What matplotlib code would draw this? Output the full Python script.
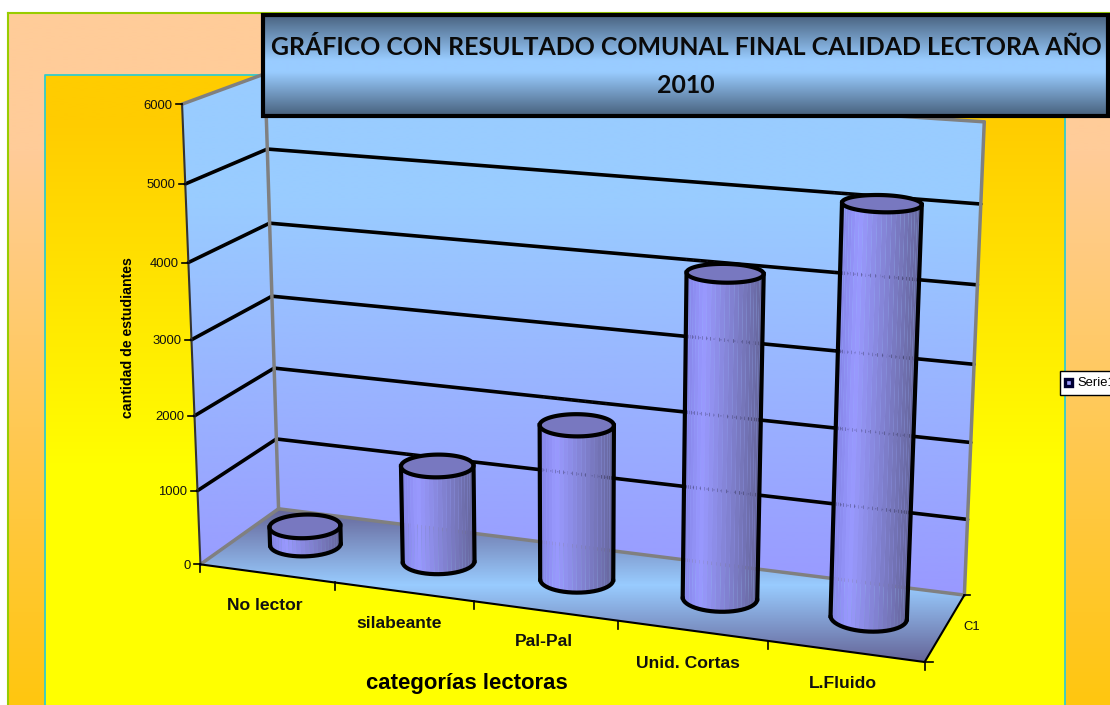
import numpy as np
import matplotlib
matplotlib.use("Agg")
import matplotlib.pyplot as plt
from matplotlib.colors import to_rgb
from matplotlib.patches import Polygon, Rectangle

# datos
CATEGORIES = ["No lector", "silabeante", "Pal-Pal", "Unid. Cortas", "L.Fluido"]
VALUES = [250, 1300, 2050, 4170, 5175]
Y_TICKS = [0, 1000, 2000, 3000, 4000, 5000, 6000]
TITLE = "GRÁFICO CON RESULTADO COMUNAL FINAL CALIDAD LECTORA AÑO\n2010"
YLABEL = "cantidad de estudiantes"
XLABEL = "categorías lectoras"
SERIES = "Serie1"
DEPTH_LABEL = "C1"

# donde van las etiquetas de categoria (pixeles)
LABEL_XY = [(265, 606), (399, 623), (544, 642), (688, 664), (843, 683)]

# esquinas de la caja 3D: (u, prof, valor) -> pixel, para ajustar la perspectiva
BOX_3D = [(0, 0, 0), (0, 1, 0), (1, 1, 0), (1, 0, 0), (0, 0, 6000), (0, 1, 6000), (1, 1, 6000),
          (0, 0, 3000), (0, 1, 3000), (1, 1, 3000), (.2, 0, 0), (.4, 0, 0)]
BOX_PX = [(200, 564), (279, 509), (965, 595), (926, 661), (182, 105), (264, 72), (985, 122),
          (193, 340), (273, 297), (972, 365), (333, 582), (473, 602)]
BAR_RU = 0.049
BAR_RD = 0.2


def fit_projection():
    rows = []
    for (u, d, v), (x, y) in zip(BOX_3D, BOX_PX):
        w = v / 6000
        rows.append([u, d, w, 1, 0, 0, 0, 0, -x * u, -x * d, -x * w, -x])
        rows.append([0, 0, 0, 0, u, d, w, 1, -y * u, -y * d, -y * w, -y])
    _, _, vt = np.linalg.svd(np.array(rows, dtype=float))
    return vt[-1].reshape(3, 4)


P = fit_projection()


def project(u, d, v):
    u, d, v = np.broadcast_arrays(np.asarray(u, float), np.asarray(d, float), np.asarray(v, float))
    pts = np.stack([u, d, v / 6000, np.ones_like(u)])
    q = P @ pts.reshape(4, -1)
    return (q[0] / q[2]).reshape(u.shape), (q[1] / q[2]).reshape(u.shape)


def vgrad(ax, stops, x0, x1, y0, y1, clip, zorder):
    ys = np.linspace(y0, y1, 300)
    pos = [s[0] for s in stops]
    rgb = np.array([to_rgb(s[1]) for s in stops])
    img = np.stack([np.interp(ys, pos, rgb[:, i]) for i in range(3)], axis=1)[:, None, :]
    im = ax.imshow(img, extent=(x0, x1, y1, y0), origin="upper", aspect="auto",
                   interpolation="bilinear", zorder=zorder)
    im.set_clip_path(clip)


def poly(ax, pts):
    p = Polygon(pts, closed=True, fc="none", ec="none", transform=ax.transData)
    ax.add_patch(p)
    return p


def line3d(ax, a, b, **kw):
    xa, ya = project(*a)
    xb, yb = project(*b)
    ax.plot([xa, xb], [ya, yb], solid_capstyle="round", **kw)


def circle_at(cu, th, val):
    return project(cu + BAR_RU * np.cos(th), 0.5 + BAR_RD * np.sin(th), val)


def draw_bar(ax, i, val):
    cu = (i + 0.5) / len(VALUES)
    # arco frontal entre los extremos reales de la elipse en pantalla
    th2 = np.linspace(0, 2 * np.pi, 361)
    xc0, _ = circle_at(cu, th2, 0)
    th_l, th_r = th2[np.argmin(xc0)], th2[np.argmax(xc0)]
    if th_r < th_l:
        th_r += 2 * np.pi
    th = np.linspace(th_l, th_r, 27)
    xb, yb = circle_at(cu, th, 0)
    xt, yt = circle_at(cu, th, val)
    c0, c1, c2 = [np.array(to_rgb(c)) for c in ("#8484E6", "#9999FF", "#646498")]
    for k in range(len(th) - 1):
        t = (xb[k] - xb.min()) / (xb.max() - xb.min())
        col = c0 + (c1 - c0) * t / 0.2 if t < 0.2 else c1 + (c2 - c1) * (t - 0.2) / 0.8
        ax.fill([xb[k], xb[k + 1], xt[k + 1], xt[k]], [yb[k], yb[k + 1], yt[k + 1], yt[k]],
                color=col, lw=0, zorder=5)
    # lineas de la pared que se transparentan en la barra
    for g in Y_TICKS[1:-1]:
        if g < val:
            xl, xr = xb.min() + 3, xb.max() - 3
            x0, y0 = project(0, 1, g)
            x1, y1 = project(1, 1, g)
            yl = y0 + (y1 - y0) * (xl - x0) / (x1 - x0)
            yr = y0 + (y1 - y0) * (xr - x0) / (x1 - x0)
            ax.plot([xl, xr], [yl, yr], color="#333366", lw=1, alpha=0.3,
                    ls=(0, (1, 4)), zorder=6)
    # tapa y contorno
    xc, yc = circle_at(cu, th2, val)
    ax.fill(xc, yc, fc="#7878C0", ec="black", lw=3, zorder=7)
    ax.plot(xb, yb, color="black", lw=3, zorder=7, solid_capstyle="round")
    ax.plot([xb[0], xt[0]], [yb[0], yt[0]], color="black", lw=3, zorder=7)
    ax.plot([xb[-1], xt[-1]], [yb[-1], yt[-1]], color="black", lw=3, zorder=7)


def main():
    fig = plt.figure(figsize=(11.1, 7.05), dpi=100, facecolor="white")
    ax = fig.add_axes([0, 0, 1, 1])
    ax.axis("off")

    # fondos
    outer = poly(ax, [(8, 13), (1112, 13), (1112, 707), (8, 707)])
    vgrad(ax, [(13, "#FFCC99"), (150, "#FFCC99"), (705, "#FFC60F")], 8, 1112, 13, 707, outer, 1)
    ax.plot([8, 8], [13, 707], color="#99CC00", lw=1.5, zorder=2)
    ax.plot([8, 1112], [13, 13], color="#99CC00", lw=1.5, zorder=2)
    inner = poly(ax, [(45, 75), (1065, 75), (1065, 707), (45, 707)])
    vgrad(ax, [(120, "#FFCC00"), (470, "#FFFF00"), (705, "#FFFF00")], 45, 1065, 75, 707, inner, 2)
    ax.plot([45, 45, 1065, 1065], [707, 75, 75, 707], color="#33CCCC", lw=1.3, zorder=2.5)

    # paredes y piso
    corners = {k: tuple(float(c) for c in project(*k)) for k in BOX_3D[:7]}
    fl, bl, br, fr = [corners[k] for k in BOX_3D[:4]]
    flt, blt, brt = [corners[k] for k in BOX_3D[4:7]]
    wall_stops = [(72, "#99CCFF"), (200, "#99CCFF"), (595, "#9999FF")]
    vgrad(ax, wall_stops, 170, 1000, 60, 610, poly(ax, [fl, bl, blt, flt]), 3)
    vgrad(ax, wall_stops, 170, 1000, 60, 610, poly(ax, [bl, br, brt, blt]), 3)
    floor_stops = [(509, "#666699"), (585, "#99CCFF"), (661, "#666699")]
    vgrad(ax, floor_stops, 190, 970, 505, 665, poly(ax, [fl, bl, br, fr]), 3)

    # lineas de division
    for g in Y_TICKS[1:-1]:
        line3d(ax, (0, 0, g), (0, 1, g), color="black", lw=2.6, zorder=4)
        line3d(ax, (0, 1, g), (1, 1, g), color="black", lw=2.6, zorder=4)
    gray = dict(color="#808080", lw=2.5, zorder=4)
    line3d(ax, (0, 0, 0), (0, 1, 0), **gray)
    line3d(ax, (0, 1, 0), (1, 1, 0), **gray)
    line3d(ax, (0, 1, 0), (0, 1, 6000), **gray)
    line3d(ax, (1, 1, 0), (1, 1, 6000), **gray)
    line3d(ax, (0, 0, 6000), (0, 1, 6000), **gray)
    line3d(ax, (0, 1, 6000), (1, 1, 6000), **gray)

    # ejes
    black = dict(color="black", zorder=4.5)
    line3d(ax, (0, 0, 0), (0, 0, 6000), color="#333333", lw=1.5, zorder=4.5)
    line3d(ax, (0, 0, 0), (1, 0, 0), lw=1.5, **black)
    line3d(ax, (1, 0, 0), (1, 1, 0), lw=1.5, **black)
    for g in Y_TICKS:
        x, y = project(0, 0, g)
        ax.plot([x - 6, x], [y, y], color="black", lw=1.2, zorder=4.5)
        ax.text(x - 10, y + 1.5, str(g), ha="right", va="center", fontsize=9.4,
                family="Liberation Sans", color="#111111", zorder=8)
    for i in range(len(CATEGORIES) + 1):
        x, y = project(i / len(CATEGORIES), 0, 0)
        ax.plot([x, x], [y, y + 8], color="black", lw=1.2, zorder=4.5)
    x, y = project(1, 0, 0)
    ax.plot([x, x + 8], [y, y], color="black", lw=1.2, zorder=4.5)
    x, y = project(1, 1, 0)
    ax.plot([x, x + 6], [y, y], color="black", lw=1.2, zorder=4.5)

    for i, val in enumerate(VALUES):
        draw_bar(ax, i, val)

    # textos
    for lab, (x, y) in zip(CATEGORIES, LABEL_XY):
        ax.text(x, y, lab, ha="center", va="center", fontsize=12.6, fontweight="bold",
                family="Liberation Sans", color="#111111", zorder=8)
    ax.text(128, 338, YLABEL, rotation=90, ha="center", va="center", fontsize=10.2,
            fontweight="bold", family="Liberation Sans", zorder=8)
    ax.text(467, 683, XLABEL, ha="center", va="center", fontsize=15.9, fontweight="bold",
            family="Liberation Sans", zorder=8)
    ax.text(963, 627, DEPTH_LABEL, ha="left", va="center", fontsize=9.4,
            family="Liberation Sans", color="#111111", zorder=8)

    # caja del titulo
    tbox = poly(ax, [(263, 14), (1108, 14), (1108, 116), (263, 116)])
    vgrad(ax, [(14, "#47607C"), (60, "#99CCFF"), (72, "#99CCFF"), (116, "#47607C")],
          263, 1108, 14, 116, tbox, 9)
    ax.add_patch(Rectangle((263, 15), 845, 101, fc="none", ec="black", lw=3, zorder=10))
    ax.text(686, 66.5, TITLE, ha="center", va="center", fontsize=17.9, fontweight="bold",
            family="Lato", color="#0A0A0A", linespacing=1.77, zorder=11)

    # leyenda cortada por el borde
    ax.add_patch(Rectangle((1060, 371), 60, 24, fc="white", ec="black", lw=1, zorder=9))
    ax.add_patch(Rectangle((1064.5, 378.5), 7, 7, fc="#9999FF", ec="#000033", lw=2.4, zorder=10))
    ax.text(1077, 383, SERIES, ha="left", va="center", fontsize=9.4,
            family="Liberation Sans", zorder=10, clip_on=True)

    ax.set_xlim(0, 1110)
    ax.set_ylim(705, 0)
    fig.savefig("out.png", dpi=100, facecolor="white")
    plt.close(fig)


if __name__ == "__main__":
    main()
